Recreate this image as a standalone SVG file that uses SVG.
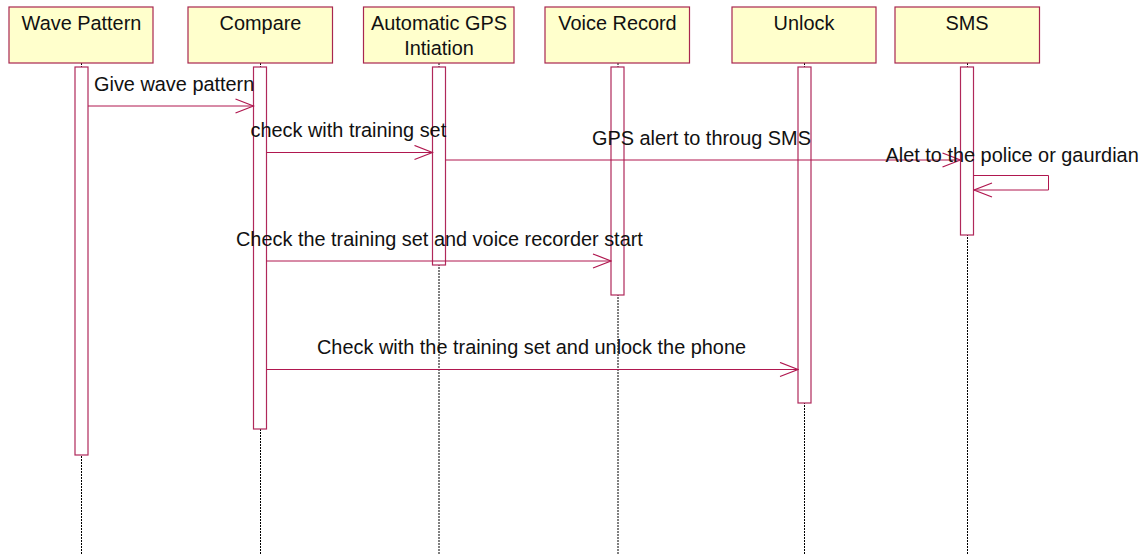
<svg xmlns="http://www.w3.org/2000/svg" width="1145" height="554" viewBox="0 0 1145 554">
  <style>
    .head { fill: #ffffcc; stroke: #a8264f; stroke-width: 1.2; }
    .bar { fill: #ffffff; stroke: #b0285a; stroke-width: 1.2; }
    .life { stroke: #000; stroke-width: 1; stroke-dasharray: 2 1; fill: none; }
    .msg { stroke: #b0174f; stroke-width: 1; fill: none; }
    .t { font-family: "Liberation Sans", Arial, sans-serif; font-size: 19.9px; fill: #111; }
    .hc { text-anchor: middle; }
  </style>
  <defs>
    <marker id="open" viewBox="0 0 20 16" refX="19" refY="8" markerWidth="20" markerHeight="16" markerUnits="userSpaceOnUse" orient="auto">
      <path d="M1,1 L19,8 L1,15" fill="none" stroke="#b0174f" stroke-width="1.3"/>
    </marker>
  </defs>
  <rect width="1145" height="554" fill="#ffffff"/>

  <!-- lifelines (drawn first, activation bars sit over them) -->
  <g id="lifelines">
    <line class="life" x1="81.5" y1="63" x2="81.5" y2="554"/>
    <line class="life" x1="260.5" y1="63" x2="260.5" y2="554"/>
    <line class="life" x1="439" y1="63" x2="439" y2="554"/>
    <line class="life" x1="618" y1="63" x2="618" y2="554"/>
    <line class="life" x1="804.5" y1="63" x2="804.5" y2="554"/>
    <line class="life" x1="967.5" y1="63" x2="967.5" y2="554"/>
  </g>

  <g id="wave-pattern">
    <rect class="head" x="9" y="7" width="144" height="56"/>
    <text class="t hc" x="81.5" y="29.5">Wave Pattern</text>
    <rect class="bar" x="75" y="67" width="13" height="388"/>
  </g>
  <g id="compare">
    <rect class="head" x="188" y="7" width="144.5" height="56"/>
    <text class="t hc" x="260.5" y="29.5">Compare</text>
    <rect class="bar" x="253.5" y="67" width="13" height="362"/>
  </g>
  <g id="gps-initiation">
    <rect class="head" x="363.5" y="7" width="150.5" height="56"/>
    <text class="t hc" x="439" y="29.5">Automatic GPS</text>
    <text class="t hc" x="439" y="54.5">Intiation</text>
    <rect class="bar" x="432.5" y="67" width="13" height="198"/>
  </g>
  <g id="voice-record">
    <rect class="head" x="545" y="7" width="144.5" height="56"/>
    <text class="t hc" x="617.5" y="29.5">Voice Record</text>
    <rect class="bar" x="611" y="67" width="13" height="228"/>
  </g>
  <g id="unlock">
    <rect class="head" x="732" y="7" width="144" height="56"/>
    <text class="t hc" x="804" y="29.5">Unlock</text>
    <rect class="bar" x="798" y="67" width="13" height="336"/>
  </g>
  <g id="sms">
    <rect class="head" x="895" y="7" width="144.5" height="56"/>
    <text class="t hc" x="967" y="29.5">SMS</text>
    <rect class="bar" x="960.5" y="67" width="13" height="168"/>
  </g>

  <!-- messages -->
  <g id="connectors">
    <line class="msg" x1="88" y1="106" x2="253.5" y2="106" marker-end="url(#open)"/>
    <line class="msg" x1="266.5" y1="152.5" x2="432.5" y2="152.5" marker-end="url(#open)"/>
    <line class="msg" x1="445.5" y1="160" x2="960.5" y2="160" marker-end="url(#open)"/>
    <polyline class="msg" points="973.5,175.5 1048.5,175.5 1048.5,190 974,190" marker-end="url(#open)"/>
    <line class="msg" x1="266.5" y1="261" x2="611" y2="261" marker-end="url(#open)"/>
    <line class="msg" x1="266.5" y1="369.5" x2="798" y2="369.5" marker-end="url(#open)"/>
  </g>

  <g id="labels">
    <text class="t" x="94" y="91">Give wave pattern</text>
    <text class="t" x="250.5" y="137">check with training set</text>
    <text class="t" x="592" y="145">GPS alert to throug SMS</text>
    <text class="t" x="885.5" y="161.5">Alet to the police or gaurdian</text>
    <text class="t" x="236" y="246">Check the training set and voice recorder start</text>
    <text class="t" x="317" y="354">Check with the training set and unlock the phone</text>
  </g>
</svg>
